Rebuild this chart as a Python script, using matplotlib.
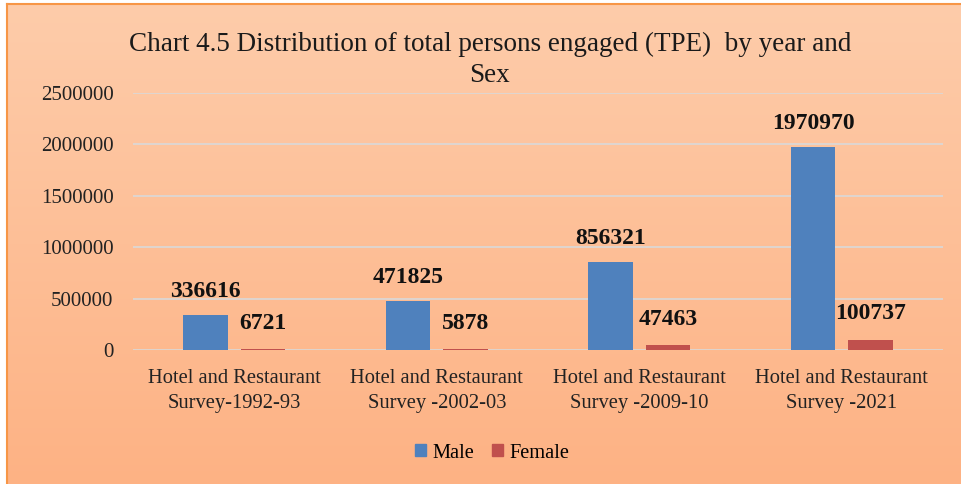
import matplotlib
matplotlib.use('Agg')
import matplotlib.pyplot as plt
import numpy as np
from matplotlib.lines import Line2D
from matplotlib.patches import Patch

plt.rcParams['font.family'] = ['Liberation Serif', 'DejaVu Serif']

categories = ['Hotel and Restaurant\nSurvey-1992-93', 'Hotel and Restaurant\nSurvey -2002-03',
              'Hotel and Restaurant\nSurvey -2009-10', 'Hotel and Restaurant\nSurvey -2021']
male = [336616, 471825, 856321, 1970970]
female = [6721, 5878, 47463, 100737]
yticks = [0, 500000, 1000000, 1500000, 2000000, 2500000]

male_col = '#4F81BD'
female_col = '#C0504D'

fig = plt.figure(figsize=(9.62, 4.84), dpi=100)

# background panel with vertical gradient
x0 = 7 / 962
top = 1 - 4 / 484
bg = fig.add_axes([x0, 0, 1 - x0, top], zorder=-10)
grad = np.linspace(0, 1, 256).reshape(-1, 1)
c_top = np.array([253, 204, 170]) / 255
c_bot = np.array([254, 178, 132]) / 255
img = c_top[None, None, :] * (1 - grad[:, :, None]) + c_bot[None, None, :] * grad[:, :, None]
bg.imshow(img, aspect='auto', extent=[0, 1, 0, 1])
bg.axis('off')
fig.add_artist(Line2D([x0, x0], [0, top], transform=fig.transFigure, color='#F79646', lw=1.5))
fig.add_artist(Line2D([x0, 1], [top, top], transform=fig.transFigure, color='#F79646', lw=1.5))

ax = fig.add_axes([133 / 962, 134 / 484, 810 / 962, 257 / 484])
ax.set_facecolor('none')

x = np.arange(len(categories))
w = 0.22
off = 0.142
ax.bar(x - off, male, w, color=male_col, zorder=3)
ax.bar(x + off, female, w, color=female_col, zorder=3)

for xi, v in zip(x - off, male):
    ax.annotate(str(v), (xi, v), xytext=(0, 17), textcoords='offset points',
                ha='center', va='center', fontsize=17, fontweight='bold', color='#111111')
for xi, v in zip(x + off, female):
    ax.annotate(str(v), (xi, v), xytext=(0, 18.5), textcoords='offset points',
                ha='center', va='center', fontsize=17, fontweight='bold', color='#111111')

ax.set_xlim(-0.5, 3.5)
ax.set_ylim(0, 2500000)
ax.set_yticks(yticks)
ax.set_yticklabels([str(t) for t in yticks], fontsize=15, color='#222222')
ax.set_xticks(x)
ax.set_xticklabels(categories, fontsize=14.8, color='#222222', linespacing=1.4)
ax.tick_params(axis='both', length=0)
ax.tick_params(axis='y', pad=14)
ax.tick_params(axis='x', pad=14)
ax.grid(axis='y', color='#D9D9D9', lw=1.2, zorder=0)
for s in ax.spines.values():
    s.set_visible(False)

fig.text(490 / 962, 1 - 60 / 484,
         'Chart 4.5 Distribution of total persons engaged (TPE)  by year and\nSex',
         ha='center', va='center', fontsize=19.5, color='#1a1a1a', linespacing=1.28)

handles = [Patch(color=male_col), Patch(color=female_col)]
fig.legend(handles, ['Male', 'Female'], loc='center', bbox_to_anchor=(492 / 962, 1 - 453 / 484),
           ncol=2, frameon=False, fontsize=14.7, handlelength=0.55, handleheight=0.55,
           handletextpad=0.3, columnspacing=0.9)

fig.savefig('out.png', dpi=100)
